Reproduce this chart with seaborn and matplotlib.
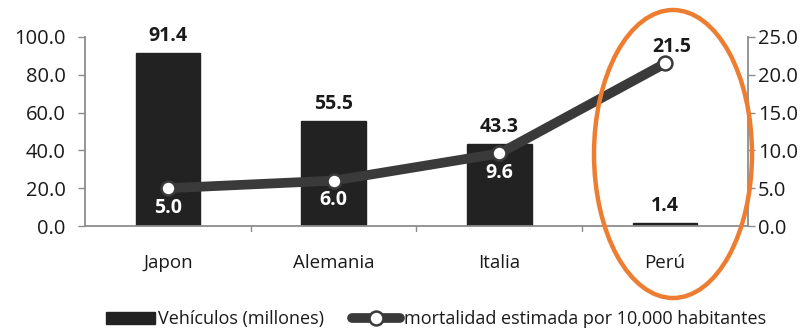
import numpy as np
import pandas as pd
import matplotlib
matplotlib.use("Agg")
import matplotlib.pyplot as plt
from matplotlib.patches import Ellipse, Patch
from matplotlib.lines import Line2D
import seaborn as sns

countries = ["Japon", "Alemania", "Italia", "Perú"]
vehiculos = [91.4, 55.5, 43.3, 1.4]
mortalidad = [5.0, 6.0, 9.6, 21.5]
left_ticks = [0, 20, 40, 60, 80, 100]
right_ticks = [0, 5, 10, 15, 20, 25]

sns.set_theme(style="white")
plt.rcParams['font.family'] = ['Open Sans', 'DejaVu Sans']

df = pd.DataFrame({"pais": countries, "veh": vehiculos, "mort": mortalidad})

fig = plt.figure(figsize=(8.12, 3.31), dpi=100)
ax = fig.add_axes([85/812, 1-226/331, (748-85)/812, (226-37)/331])

bar_color = "#222222"
line_color = "#3a3a3a"
axis_color = "#8c8c8c"
text_color = "#1a1a1a"

sns.barplot(data=df, x="pais", y="veh", ax=ax, color=bar_color, width=0.39,
            saturation=1, edgecolor=bar_color)
ax.set_ylim(0, 100)
ax.set_xlim(-0.5, 3.5)
ax.set_yticks(left_ticks)
ax.set_yticklabels([f"{v:.1f}" for v in left_ticks], fontsize=14.5, color=text_color)
ax.set_xticks(range(len(countries)))
ax.set_xticklabels(countries, fontsize=13.5, color=text_color)
ax.tick_params(axis="x", length=0, pad=20)
ax.tick_params(axis="y", length=5, width=1, color=axis_color, direction="out", pad=9, left=True)
ax.set_xlabel("")
ax.set_ylabel("")
for s in ["top", "right"]:
    ax.spines[s].set_visible(False)
for s in ["left", "bottom"]:
    ax.spines[s].set_color(axis_color)
    ax.spines[s].set_linewidth(1.3)
# separator ticks between categories
for xb in [0.5, 1.5, 2.5]:
    ax.plot([xb, xb], [0, -2.5], color=axis_color, lw=1, clip_on=False)

for i, v in enumerate(vehiculos):
    ax.text(i, v + 4, f"{v:.1f}", ha="center", va="bottom", fontsize=14,
            fontweight="bold", color=text_color)

ax2 = ax.twinx()
ax2.set_position(ax.get_position())
sns.lineplot(x=np.arange(len(countries)), y=mortalidad, ax=ax2, color=line_color,
             lw=7, marker="o", markersize=10, markerfacecolor="white",
             markeredgecolor=line_color, markeredgewidth=1.8, zorder=5)
ax2.set_ylim(0, 25)
ax2.set_yticks(right_ticks)
ax2.set_yticklabels([f"{v:.1f}" for v in right_ticks], fontsize=14.5, color=text_color)
ax2.tick_params(axis="y", length=5, width=1, color=axis_color, direction="out", pad=2, right=True)
ax2.set_ylabel("")
for s in ["top", "left", "bottom"]:
    ax2.spines[s].set_visible(False)
ax2.spines["right"].set_color(axis_color)
ax2.spines["right"].set_linewidth(1.3)

for i, v in enumerate(mortalidad):
    if i < 3:
        ax2.text(i, v - 1.3, f"{v:.1f}", ha="center", va="top", fontsize=14,
                 fontweight="bold", color="white", zorder=6)
    else:
        ax2.text(i + 0.04, v + 0.8, f"{v:.1f}", ha="center", va="bottom", fontsize=14,
                 fontweight="bold", color=text_color, zorder=6)

# orange highlight ellipse
ell = Ellipse((673/812, 1-154/331), 158/812, 288/331, transform=fig.transFigure,
              fill=False, edgecolor="#ED7D31", lw=3.2, zorder=10)
fig.patches.append(ell)

handles = [Patch(facecolor=bar_color, edgecolor=bar_color),
           Line2D([0], [0], color=line_color, lw=7, marker="o", markersize=10,
                  markerfacecolor="white", markeredgecolor=line_color, markeredgewidth=1.8)]
labels = ["Vehículos (millones)", "mortalidad estimada por 10,000 habitantes"]
fig.legend(handles, labels, loc="center", bbox_to_anchor=(0.537, 0.035), ncol=2,
           frameon=False, fontsize=13, handlelength=2.7, handletextpad=0.2,
           columnspacing=1.5, labelcolor=text_color)

fig.savefig("out.png", dpi=100)
